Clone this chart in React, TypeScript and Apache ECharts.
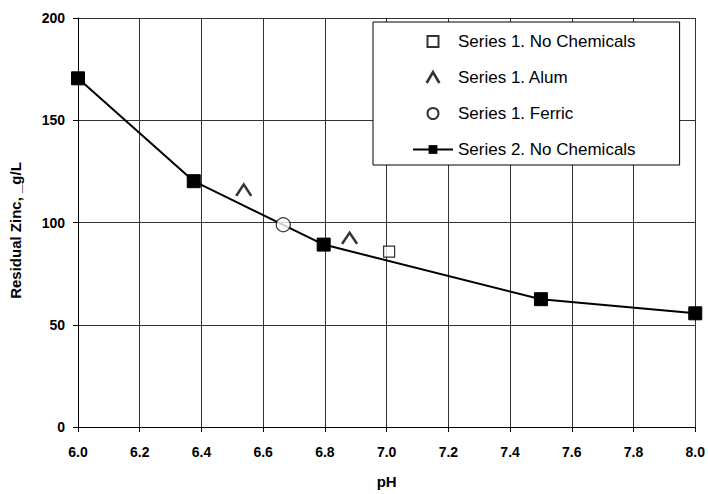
import React, { useEffect, useRef } from "react";
import * as echarts from "echarts";

// ---- data ----
const series2Name = "Series 2. No Chemicals";
const series2PH = [6.0, 6.375, 6.796, 7.5, 8.0];
const series2Zinc = [170.5, 120.2, 89.2, 62.5, 55.6];

const series1NoChemName = "Series 1. No Chemicals";
const series1NoChemPH = [7.008];
const series1NoChemZinc = [85.8];

const series1AlumName = "Series 1. Alum";
const series1AlumPH = [6.537, 6.88];
const series1AlumZinc = [115.8, 92.3];

const series1FerricName = "Series 1. Ferric";
const series1FerricPH = [6.665];
const series1FerricZinc = [98.9];

const xMin = 6.0;
const xMax = 8.0;
const xStep = 0.2;
const yMin = 0;
const yMax = 200;
const yStep = 50;

const xTitle = "pH";
const yTitle = "Residual Zinc, _g/L";

const zip = (xs: number[], ys: number[]) => xs.map((x, i) => [x, ys[i]]);

const FONT = "'Liberation Sans', Arial, Helvetica, sans-serif";
const SQUARE = "path://M0,0L10,0L10,10L0,10Z";
const CARET = "path://M0,13L7.5,0L15,13";

export default function App() {
  const ref = useRef<HTMLDivElement>(null);
  useEffect(() => {
    if (!ref.current) return;
    document.body.style.margin = "0";
    const chart = echarts.init(ref.current, null, { renderer: "svg" });
    chart.setOption({
      animation: false,
      backgroundColor: "#ffffff",
      textStyle: { fontFamily: FONT },
      grid: { left: 77, right: 12, top: 18, bottom: 62 },
      legend: {
        orient: "vertical",
        left: 373,
        top: 22,
        padding: [11, 44, 7, 39],
        itemGap: 19,
        itemWidth: 40,
        itemHeight: 11,
        symbolKeepAspect: true,
        backgroundColor: "#ffffff",
        borderColor: "#000000",
        borderWidth: 1,
        borderRadius: 0,
        selectedMode: false,
        textStyle: { fontFamily: FONT, fontSize: 17, color: "#000000" },
        data: [
          { name: series1NoChemName, icon: "path://M0,0L9,0L9,9L0,9Z" },
          {
            name: series1AlumName,
            itemStyle: { color: "rgba(0,0,0,0)", borderColor: "#000", borderWidth: 2.6 },
          },
          series1FerricName,
          series2Name,
        ],
      },
      xAxis: {
        type: "value",
        min: xMin,
        max: xMax,
        interval: xStep,
        name: xTitle,
        nameLocation: "middle",
        nameGap: 47,
        nameTextStyle: { fontFamily: FONT, fontSize: 15, fontWeight: "bold", color: "#000" },
        axisLine: { show: true, onZero: false, lineStyle: { color: "#000", width: 1 } },
        axisTick: { show: true, inside: false, length: 5, lineStyle: { color: "#000" } },
        axisLabel: {
          fontFamily: FONT,
          fontSize: 14,
          fontWeight: "bold",
          color: "#000",
          margin: 18,
          formatter: (v: number) => v.toFixed(1),
        },
        splitLine: { show: true, lineStyle: { color: "#333", width: 1 } },
      },
      yAxis: {
        type: "value",
        min: yMin,
        max: yMax,
        interval: yStep,
        name: yTitle,
        nameLocation: "middle",
        nameGap: 55,
        nameTextStyle: {
          fontFamily: FONT,
          fontSize: 15,
          fontWeight: "bold",
          color: "#000",
          padding: [0, 16, 0, 0],
        },
        axisLine: { show: true, lineStyle: { color: "#000", width: 1 } },
        axisTick: { show: true, inside: false, length: 5, lineStyle: { color: "#000" } },
        axisLabel: { fontFamily: FONT, fontSize: 14, fontWeight: "bold", color: "#000", margin: 13 },
        splitLine: { show: true, lineStyle: { color: "#333", width: 1 } },
      },
      series: [
        {
          name: series2Name,
          type: "line",
          data: zip(series2PH, series2Zinc),
          symbol: "rect",
          symbolSize: 13,
          lineStyle: { color: "#000", width: 2 },
          itemStyle: { color: "#000", borderColor: "#000" },
          z: 2,
        },
        {
          name: series1NoChemName,
          type: "scatter",
          data: zip(series1NoChemPH, series1NoChemZinc),
          symbol: SQUARE,
          symbolSize: 11,
          itemStyle: { color: "#ffffff", borderColor: "#000", borderWidth: 1.2 },
          z: 3,
        },
        {
          name: series1AlumName,
          type: "scatter",
          data: zip(series1AlumPH, series1AlumZinc),
          symbol: CARET,
          symbolSize: [15, 13],
          symbolKeepAspect: true,
          itemStyle: { color: "rgba(0,0,0,0)", borderColor: "#000", borderWidth: 2.4 },
          z: 3,
        },
        {
          name: series1FerricName,
          type: "scatter",
          data: zip(series1FerricPH, series1FerricZinc),
          symbol: "circle",
          symbolSize: 14,
          itemStyle: { color: "#ffffff", borderColor: "#000", borderWidth: 1.2 },
          z: 3,
        },
      ],
    });
    return () => chart.dispose();
  }, []);
  return <div ref={ref} style={{ width: 708, height: 494 }} />;
}
